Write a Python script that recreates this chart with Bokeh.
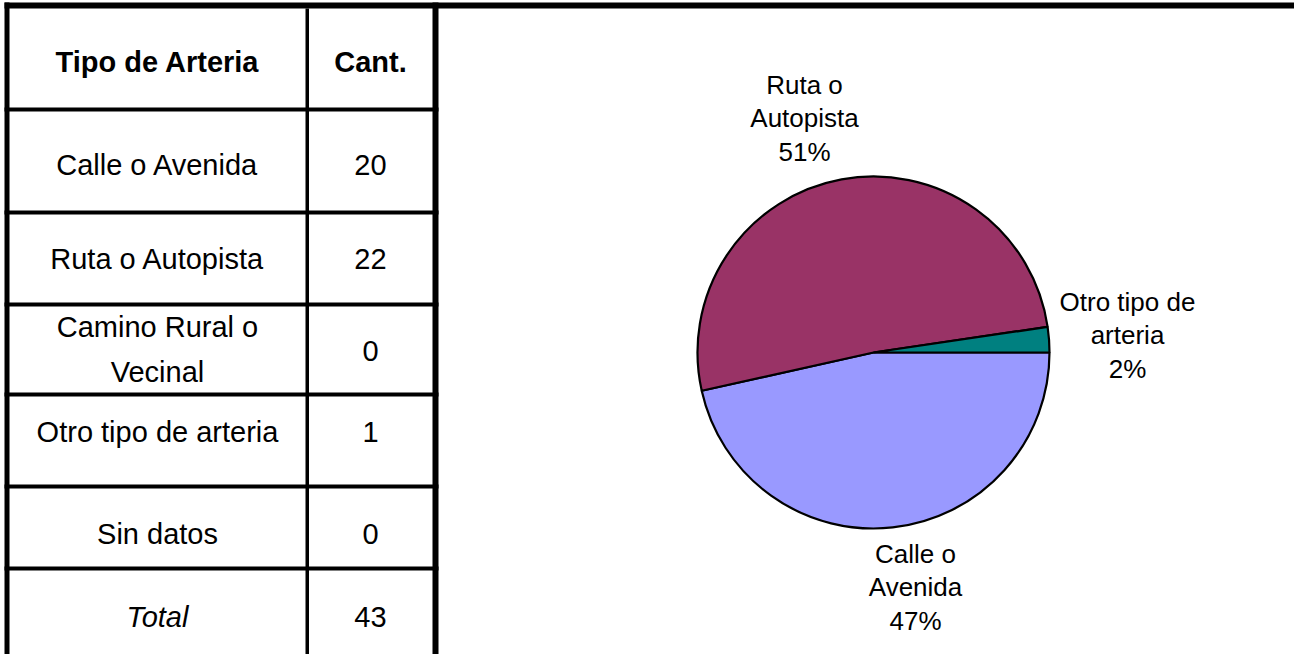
import math
from bokeh.plotting import figure
from bokeh.models import Range1d
from bokeh.core.properties import value
from bokeh.embed import file_html
from bokeh.resources import INLINE

# ---------------- data ----------------
header = ["Tipo de Arteria", "Cant."]
categories = ["Calle o Avenida", "Ruta o Autopista", "Camino Rural o\nVecinal",
              "Otro tipo de arteria", "Sin datos"]
counts = [20, 22, 0, 1, 0]
total_label = "Total"
pie_labels = ["Calle o\nAvenida", "Ruta o\nAutopista", "Camino Rural o\nVecinal",
              "Otro tipo de\narteria", "Sin datos"]
slice_colors = ["#9999FF", "#993366", "#FFFFCC", "#008080", "#CCFFFF"]

# ---------------- layout (reference pixel coordinates) ----------------
W, H = 1294, 654
TOPY = 670  # data y = TOPY - screen y


def Y(sy):
    return TOPY - sy


FONT = value("Liberation Sans")

p = figure(width=W, height=H, x_range=Range1d(8, 8 + W), y_range=Range1d(TOPY - 8 - H, TOPY - 8),
           output_backend="svg", toolbar_location=None, min_border=0,
           outline_line_color=None, background_fill_color="white")
p.axis.visible = False
p.grid.visible = False

# ---------------- table frame ----------------
frame_l, frame_r, frame_b, frame_t = [], [], [], []


def box(x0, x1, y0, y1):
    frame_l.append(x0)
    frame_r.append(x1)
    frame_t.append(Y(y0))
    frame_b.append(Y(y1))


box(12, 8 + W, 10, 16)          # top thick border
box(12, 17, 10, 680)            # left thick border
box(440, 446, 10, 680)          # right thick border of table
box(313, 316.5, 16, 680)        # column divider
for ly in [117, 220, 312, 402, 494, 576]:
    box(12, 446, ly - 2, ly + 2)

p.quad(left=frame_l, right=frame_r, top=frame_t, bottom=frame_b,
       fill_color="black", line_color=None)

# ---------------- table text (y = centre of capitals) ----------------
c1, c2 = 165, 378
row_centres = [172.5, 266, 334, 439.5, 541]
line_gap_table = 45
val_centres = [172.5, 266, 358, 439.5, 541]
TS = "29px"

tx, ty, tt = [], [], []
for cat, yc in zip(categories, row_centres):
    for i, part in enumerate(cat.split("\n")):
        tx.append(c1)
        ty.append(Y(yc + i * line_gap_table))
        tt.append(part)
for v, yc in zip(counts, val_centres):
    tx.append(c2)
    ty.append(Y(yc))
    tt.append(str(v))
tx.append(c2)
ty.append(Y(624.5))
tt.append(str(sum(counts)))

p.text(x=tx, y=ty, text=tt, text_font=FONT, text_font_size=TS,
       text_align="center", text_baseline="middle", text_color="black")
p.text(x=[c1, c2], y=[Y(69), Y(69)], text=header, text_font=FONT, text_font_size=TS,
       text_font_style="bold", text_align="center", text_baseline="middle", text_color="black")
p.text(x=[c1], y=[Y(624.5)], text=[total_label], text_font=FONT, text_font_size=TS,
       text_font_style="italic", text_align="center", text_baseline="middle", text_color="black")

# ---------------- pie ----------------
cx, cy, R = 881, 360, 176
total = sum(counts)
starts, ends, cols = [], [], []
cum = 0
for v, col in zip(counts, slice_colors):
    prev = cum
    cum += v
    if v == 0:
        continue
    # clockwise from 3 o'clock
    starts.append(2 * math.pi - 2 * math.pi * cum / total)
    ends.append(2 * math.pi - 2 * math.pi * prev / total)
    cols.append(col)

p.wedge(x=[cx] * len(starts), y=[Y(cy)] * len(starts), radius=R, radius_units="screen",
        start_angle=starts, end_angle=ends, direction="anticlock",
        fill_color=cols, line_color="black", line_width=2.2)

# pie labels (category + percentage), anchor = centre x, centre of first line
label_anchor = {0: (923, 561), 1: (812, 92), 3: (1135, 309)}
gap = 33.5
lx, ly_, lt = [], [], []
for i, v in enumerate(counts):
    if v == 0 or i not in label_anchor:
        continue
    ax, ab = label_anchor[i]
    lines = pie_labels[i].split("\n") + [f"{round(100 * v / total)}%"]
    for k, line in enumerate(lines):
        lx.append(ax)
        ly_.append(Y(ab + k * gap))
        lt.append(line)

p.text(x=lx, y=ly_, text=lt, text_font=FONT, text_font_size="26px",
       text_align="center", text_baseline="middle", text_color="black")

open("out.html", "w").write(file_html(p, INLINE))
